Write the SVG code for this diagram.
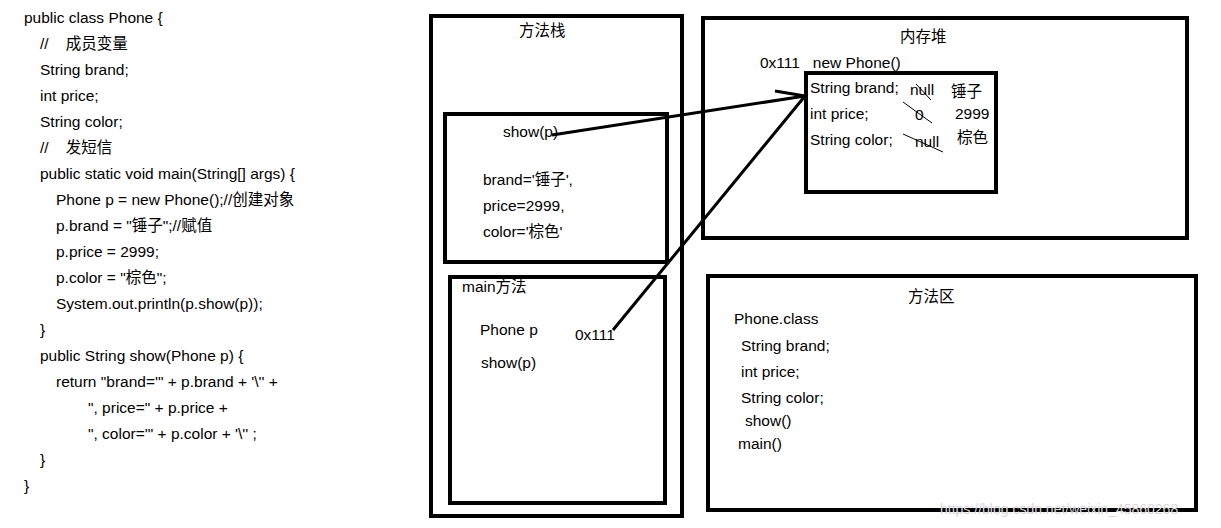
<svg xmlns="http://www.w3.org/2000/svg" width="1221" height="528" viewBox="0 0 1221 528">
<style>
text{font-family:"Liberation Sans","Noto Sans CJK SC",sans-serif;font-size:15.5px;fill:#000;white-space:pre}
.b{fill:none;stroke:#000;stroke-width:4}
.l{stroke:#000;stroke-width:3;fill:none}
.t{stroke:#000;stroke-width:1;fill:none}
</style>
<rect width="1221" height="528" fill="#fff"/>
<g id="code">
<text x="24" y="23">public class Phone {</text>
<text x="40" y="49">//    成员变量</text>
<text x="40" y="75">String brand;</text>
<text x="40" y="101">int price;</text>
<text x="40" y="127">String color;</text>
<text x="40" y="153">//    发短信</text>
<text x="40" y="179">public static void main(String[] args) {</text>
<text x="56" y="205">Phone p = new Phone();//创建对象</text>
<text x="56" y="231">p.brand = "锤子";//赋值</text>
<text x="56" y="257">p.price = 2999;</text>
<text x="56" y="283">p.color = "棕色";</text>
<text x="56" y="309">System.out.println(p.show(p));</text>
<text x="40" y="335">}</text>
<text x="40" y="361">public String show(Phone p) {</text>
<text x="56" y="387">return "brand='" + p.brand + '\'' +</text>
<text x="88" y="413">", price=" + p.price +</text>
<text x="88" y="439">", color='" + p.color + '\'' ;</text>
<text x="40" y="465">}</text>
<text x="24" y="491">}</text>
</g>
<g id="stack"><rect class="b" x="431" y="16" width="251" height="500"/><text x="519" y="36">方法栈</text></g>
<g id="show"><rect class="b" x="445" y="114" width="222" height="148"/>
<text x="503" y="137">show(p)</text><text x="483" y="185">brand='锤子',</text><text x="483" y="211">price=2999,</text><text x="483" y="237">color='棕色'</text></g>
<g id="main"><rect class="b" x="450" y="277" width="215" height="226"/>
<text x="462" y="292">main方法</text><text x="480" y="335">Phone p</text><text x="575" y="340">0x111</text><text x="481" y="368">show(p)</text></g>
<g id="heap"><rect class="b" x="703" y="18" width="484" height="220"/><text x="900" y="42">内存堆</text>
<text x="760" y="68">0x111   new Phone()</text></g>
<g id="obj"><rect class="b" x="806" y="73" width="190" height="119"/>
<text x="810" y="93">String brand;</text><text x="910" y="95">null</text><text x="951" y="97">锤子</text>
<text x="810" y="119">int price;</text><text x="915" y="120">0</text><text x="955" y="119">2999</text>
<text x="810" y="145">String color;</text><text x="915" y="147">null</text><text x="957" y="143">棕色</text>
<line class="t" x1="916" y1="84" x2="931" y2="100"/><line class="t" x1="903" y1="102" x2="932" y2="123"/><line class="t" x1="903" y1="134" x2="943" y2="152"/></g>
<g id="method"><rect class="b" x="708" y="276" width="488" height="234"/><text x="908" y="302">方法区</text>
<text x="734" y="324">Phone.class</text><text x="741" y="351">String brand;</text><text x="741" y="377">int price;</text><text x="741" y="403">String color;</text><text x="745" y="426">show()</text><text x="738" y="449">main()</text></g>
<g id="connectors">
<line class="l" x1="552" y1="135" x2="805" y2="96"/>
<line class="l" x1="613" y1="330" x2="805" y2="96"/>
<line class="l" x1="775" y1="91" x2="805" y2="96"/>
</g>
<text x="940" y="514" style="font-size:14px;fill:#d8d8d8">https://blog.csdn.net/weixin_45860268</text>
</svg>
